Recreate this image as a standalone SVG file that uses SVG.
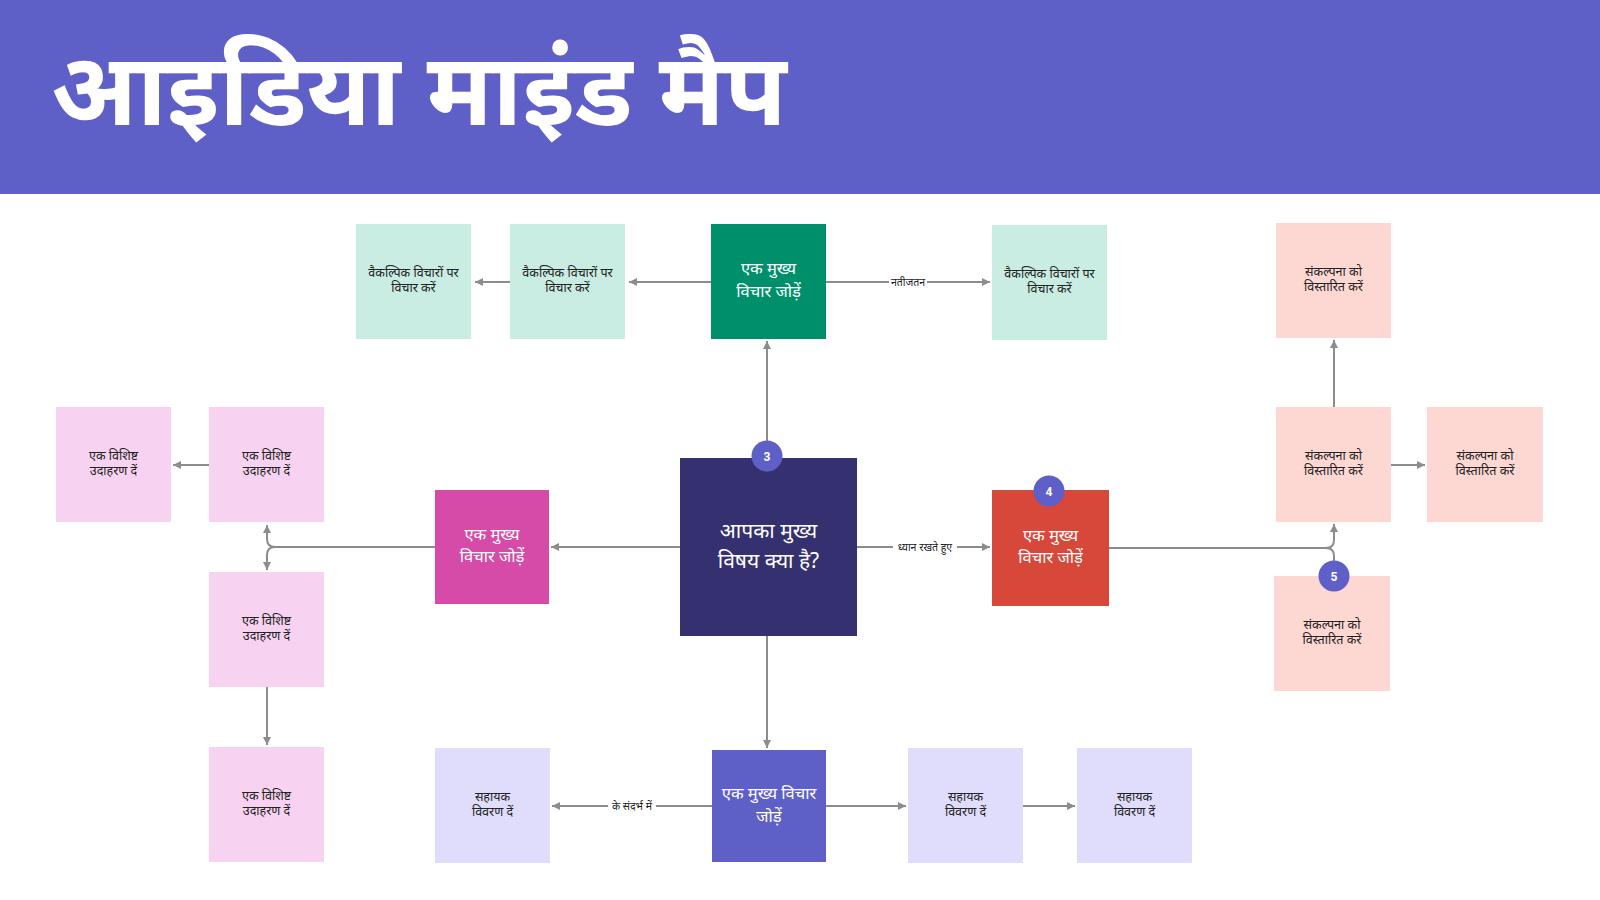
<svg xmlns="http://www.w3.org/2000/svg" width="1600" height="900" viewBox="0 0 1600 900">
<defs>
<marker id="ah" markerUnits="userSpaceOnUse" markerWidth="10" markerHeight="10" refX="8" refY="4" orient="auto">
<path d="M0,0 L8,4 L0,8 Z" fill="#8c8c8c"/>
</marker>
<style>
.t{font-family:"Noto Sans","Noto Sans Devanagari","Liberation Sans",sans-serif;text-anchor:middle}
.s{font-size:12.5px;fill:#222}
.m{font-size:16.5px;fill:#fff}
.c{fill:none;stroke:#8c8c8c;stroke-width:2}
.lbl{font-family:"Noto Sans","Noto Sans Devanagari","Liberation Sans",sans-serif;font-size:10.5px;fill:#222;text-anchor:middle}
.teal{fill:#c9ece3}
.sal{fill:#fdd7d2}
.pink{fill:#f7d2f1}
.lav{fill:#e0dcfc}
.badge{fill:#5f5fc8}
.bt{font-family:"Roboto","Liberation Sans",sans-serif;font-size:12px;font-weight:bold;fill:#fff;text-anchor:middle}
</style>
</defs>
<rect x="0" y="0" width="1600" height="900" fill="#fff"/>
<g id="header">
<rect x="0" y="0" width="1600" height="194" fill="#5f5fc8"/>
<text x="51" y="125" font-family="Noto Sans, Noto Sans Devanagari, sans-serif" font-size="101" font-weight="bold" fill="#fff">आइडिया माइंड मैप</text>
</g>
<g id="connectors">
<path class="c" d="M711 282 H629" marker-end="url(#ah)"/>
<path class="c" d="M510 282 H475" marker-end="url(#ah)"/>
<path class="c" d="M826 282 H990" marker-end="url(#ah)"/>
<path class="c" d="M767 442 V341" marker-end="url(#ah)"/>
<path class="c" d="M767 636 V748" marker-end="url(#ah)"/>
<path class="c" d="M680 547 H551" marker-end="url(#ah)"/>
<path class="c" d="M857 547 H990" marker-end="url(#ah)"/>
<path class="c" d="M435 547 H275 Q267 547 267 539 V525" marker-end="url(#ah)"/>
<path class="c" d="M275 547 Q267 547 267 555 V570" marker-end="url(#ah)"/>
<path class="c" d="M209 465 H173" marker-end="url(#ah)"/>
<path class="c" d="M267 687 V745" marker-end="url(#ah)"/>
<path class="c" d="M1109 548 H1326 Q1334 548 1334 540 V524" marker-end="url(#ah)"/>
<path class="c" d="M1326 548 Q1334 548 1334 556 V574" marker-end="url(#ah)"/>
<path class="c" d="M1334 407 V340" marker-end="url(#ah)"/>
<path class="c" d="M1391 465 H1425" marker-end="url(#ah)"/>
<path class="c" d="M712 806 H552" marker-end="url(#ah)"/>
<path class="c" d="M826 806 H906" marker-end="url(#ah)"/>
<path class="c" d="M1023 806 H1075" marker-end="url(#ah)"/>
<rect x="889" y="274" width="38" height="16" fill="#fff"/>
<text class="lbl" x="908" y="285.5">नतीजतन</text>
<rect x="893" y="539" width="64" height="16" fill="#fff"/>
<text class="lbl" x="925" y="550.5">ध्यान रखते हुए</text>
<rect x="608" y="798" width="48" height="16" fill="#fff"/>
<text class="lbl" x="632" y="809.5">के संदर्भ में</text>
</g>
<g id="n-teal1"><rect class="teal" x="356" y="224" width="115" height="115"/><text class="t s" x="413.5" y="277">वैकल्पिक विचारों पर</text><text class="t s" x="413.5" y="292">विचार करें</text></g>
<g id="n-teal2"><rect class="teal" x="510" y="224" width="115" height="115"/><text class="t s" x="567.5" y="277">वैकल्पिक विचारों पर</text><text class="t s" x="567.5" y="292">विचार करें</text></g>
<g id="n-green"><rect x="711" y="224" width="115" height="115" fill="#008f6b"/><text class="t m" x="768.5" y="274">एक मुख्य</text><text class="t m" x="768.5" y="297">विचार जोड़ें</text></g>
<g id="n-teal3"><rect class="teal" x="992" y="225" width="115" height="115"/><text class="t s" x="1049.5" y="278">वैकल्पिक विचारों पर</text><text class="t s" x="1049.5" y="293">विचार करें</text></g>
<g id="n-sal1"><rect class="sal" x="1276" y="223" width="115" height="115"/><text class="t s" x="1333.5" y="276">संकल्पना को</text><text class="t s" x="1333.5" y="291">विस्तारित करें</text></g>
<g id="n-sal2"><rect class="sal" x="1276" y="407" width="115" height="115"/><text class="t s" x="1333.5" y="460">संकल्पना को</text><text class="t s" x="1333.5" y="475">विस्तारित करें</text></g>
<g id="n-sal3"><rect class="sal" x="1427" y="407" width="116" height="115"/><text class="t s" x="1485" y="460">संकल्पना को</text><text class="t s" x="1485" y="475">विस्तारित करें</text></g>
<g id="n-sal4"><rect class="sal" x="1274" y="576" width="116" height="115"/><text class="t s" x="1332" y="629">संकल्पना को</text><text class="t s" x="1332" y="644">विस्तारित करें</text></g>
<g id="n-red"><rect x="992" y="490" width="117" height="116" fill="#d8483a"/><text class="t m" x="1050.5" y="541">एक मुख्य</text><text class="t m" x="1050.5" y="563">विचार जोड़ें</text></g>
<g id="n-center"><rect x="680" y="458" width="177" height="178" fill="#35306f"/><text class="t" x="768.5" y="538" font-size="21" fill="#fff">आपका मुख्य</text><text class="t" x="768.5" y="568" font-size="21" fill="#fff">विषय क्या है?</text></g>
<g id="n-magenta"><rect x="435" y="490" width="114" height="114" fill="#d64aa8"/><text class="t m" x="492" y="540">एक मुख्य</text><text class="t m" x="492" y="562">विचार जोड़ें</text></g>
<g id="n-pink1"><rect class="pink" x="56" y="407" width="115" height="115"/><text class="t s" x="113.5" y="460">एक विशिष्ट</text><text class="t s" x="113.5" y="475">उदाहरण दें</text></g>
<g id="n-pink2"><rect class="pink" x="209" y="407" width="115" height="115"/><text class="t s" x="266.5" y="460">एक विशिष्ट</text><text class="t s" x="266.5" y="475">उदाहरण दें</text></g>
<g id="n-pink3"><rect class="pink" x="209" y="572" width="115" height="115"/><text class="t s" x="266.5" y="625">एक विशिष्ट</text><text class="t s" x="266.5" y="640">उदाहरण दें</text></g>
<g id="n-pink4"><rect class="pink" x="209" y="747" width="115" height="115"/><text class="t s" x="266.5" y="800">एक विशिष्ट</text><text class="t s" x="266.5" y="815">उदाहरण दें</text></g>
<g id="n-lav1"><rect class="lav" x="435" y="748" width="115" height="115"/><text class="t s" x="492.5" y="801">सहायक</text><text class="t s" x="492.5" y="816">विवरण दें</text></g>
<g id="n-blue"><rect x="712" y="750" width="114" height="112" fill="#5f5fc8"/><text class="t m" x="769" y="799">एक मुख्य विचार</text><text class="t m" x="769" y="822">जोड़ें</text></g>
<g id="n-lav2"><rect class="lav" x="908" y="748" width="115" height="115"/><text class="t s" x="965.5" y="801">सहायक</text><text class="t s" x="965.5" y="816">विवरण दें</text></g>
<g id="n-lav3"><rect class="lav" x="1077" y="748" width="115" height="115"/><text class="t s" x="1134.5" y="801">सहायक</text><text class="t s" x="1134.5" y="816">विवरण दें</text></g>
<g id="badge3"><circle class="badge" cx="767" cy="456" r="15.5"/><text class="bt" x="767" y="460.5">3</text></g>
<g id="badge4"><circle class="badge" cx="1049" cy="491" r="15.5"/><text class="bt" x="1049" y="495.5">4</text></g>
<g id="badge5"><circle class="badge" cx="1334" cy="576" r="15.5"/><text class="bt" x="1334" y="580.5">5</text></g>
</svg>
